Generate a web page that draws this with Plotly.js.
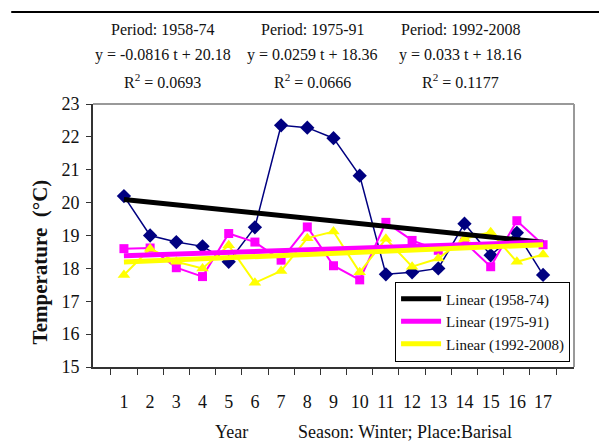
<!DOCTYPE html>
<html>
<head>
<meta charset="utf-8">
<script src="https://cdn.plot.ly/plotly-3.0.1.min.js"></script>
<style>html,body{margin:0;padding:0;background:#fff;}#chart{width:599px;height:448px;}</style>
</head>
<body>
<div id="chart"></div>
<script>
// Year index within each 17-year period
const years = ['1','2','3','4','5','6','7','8','9','10','11','12','13','14','15','16','17'];
// Winter temperatures at Barisal (°C)
const temp1958_74 = [20.2, 19.0, 18.8, 18.67, 18.2, 19.25, 22.35, 22.28, 21.96, 20.82, 17.82, 17.88, 18.0, 19.36, 18.4, 19.08, 17.8];
const temp1975_91 = [18.6, 18.62, 18.02, 17.75, 19.06, 18.8, 18.25, 19.26, 18.08, 17.65, 19.4, 18.85, 18.55, 18.8, 18.05, 19.45, 18.72];
const temp1992_2008 = [17.8, 18.6, 18.2, 18.0, 18.7, 17.56, 17.92, 18.92, 19.12, 17.88, 18.9, 18.05, 18.3, 18.9, 19.1, 18.2, 18.42];
// Linear trend coefficients printed on the chart
const periods = ['1958-74', '1975-91', '1992-2008'];
const slopes = [-0.0816, 0.0259, 0.033];
const intercepts = [20.18, 18.36, 18.16];
const r2 = ['0.0693', '0.0666', '0.1177'];
const yTicks = [15, 16, 17, 18, 19, 20, 21, 22, 23];

const serif = 'Liberation Serif';
const trendColors = ['#000000', '#ff00ff', '#ffff00'];

const data = [
  {x: years, y: temp1958_74, type: 'scatter', mode: 'lines+markers', showlegend: false,
   line: {color: '#000080', width: 1.5}, marker: {symbol: 'diamond', size: 11, color: '#000080'}},
  {x: years, y: temp1975_91, type: 'scatter', mode: 'lines+markers', showlegend: false,
   line: {color: '#ff00ff', width: 2}, marker: {symbol: 'square', size: 9, color: '#ff00ff'}},
  {x: years, y: temp1992_2008, type: 'scatter', mode: 'lines+markers', showlegend: false,
   line: {color: '#ffff00', width: 2}, marker: {symbol: 'triangle-up', size: 11, color: '#ffff00'}}
];
const tFirst = 1, tLast = years.length;
periods.forEach((p, i) => {
  data.push({
    x: [years[0], years[years.length - 1]],
    y: [slopes[i] * tFirst + intercepts[i], slopes[i] * tLast + intercepts[i]],
    type: 'scatter', mode: 'lines', name: 'Linear (' + p + ')',
    line: {color: trendColors[i], width: 5}
  });
});

const annotations = [];
const colX = [0.145, 0.457, 0.765];
periods.forEach((p, i) => {
  const sign = intercepts[i] >= 0 ? '+' : '-';
  const lines = ['Period: ' + p,
    'y = ' + slopes[i] + ' t ' + sign + ' ' + Math.abs(intercepts[i]).toFixed(2),
    'R<sup>2</sup> = ' + r2[i]];
  const ys = [1.285, 1.187, 1.088];
  lines.forEach((t, j) => {
    annotations.push({xref: 'paper', yref: 'paper', x: colX[i], y: ys[j], xanchor: 'center', yanchor: 'middle',
      text: t, showarrow: false, font: {family: serif, size: 16, color: '#111'}});
  });
});
annotations.push({xref: 'paper', yref: 'paper', x: 0.288, y: -0.248, xanchor: 'center', yanchor: 'middle',
  text: 'Year', showarrow: false, font: {family: serif, size: 18, color: '#111'}});
annotations.push({xref: 'paper', yref: 'paper', x: 0.649, y: -0.248, xanchor: 'center', yanchor: 'middle',
  text: 'Season: Winter; Place:Barisal', showarrow: false, font: {family: serif, size: 18, color: '#111'}});
annotations.push({xref: 'paper', yref: 'paper', x: -0.111, y: 0.40, xanchor: 'center', yanchor: 'middle',
  textangle: -90, text: '<b>Temperature  (°C)</b>', showarrow: false, font: {family: serif, size: 21, color: '#111'}});

const layout = {
  width: 599, height: 448,
  margin: {l: 93, r: 25, t: 104, b: 81},
  paper_bgcolor: '#ffffff', plot_bgcolor: '#ffffff',
  font: {family: serif, color: '#111'},
  xaxis: {type: 'category', tickson: 'boundaries', ticks: 'outside', ticklen: 6, tickcolor: '#333',
    showline: true, linecolor: '#333', linewidth: 2, showgrid: false, zeroline: false, tickangle: 0,
    tickfont: {family: serif, size: 18, color: '#111'}, ticklabelstandoff: 17, fixedrange: true},
  yaxis: {range: [15, 23], tickvals: yTicks, ticks: 'outside', ticklen: 5, tickcolor: '#333',
    showline: true, linecolor: '#333', linewidth: 2, showgrid: false, zeroline: false,
    tickfont: {family: serif, size: 18, color: '#111'}, ticklabelstandoff: 3},
  legend: {x: 0.628, y: 0.325, xanchor: 'left', yanchor: 'top', bgcolor: '#ffffff',
    bordercolor: '#000', borderwidth: 1, font: {family: serif, size: 15, color: '#111'},
    tracegroupgap: 0, itemwidth: 40},
  shapes: [
    {type: 'line', xref: 'paper', yref: 'paper', x0: -0.17, x1: 1.06, y0: 1.35, y1: 1.35, line: {color: '#000', width: 2}},
    {type: 'line', xref: 'paper', yref: 'paper', x0: 0, x1: 1, y0: 1, y1: 1, line: {color: '#999', width: 2}},
    {type: 'line', xref: 'paper', yref: 'paper', x0: 1, x1: 1, y0: 0, y1: 1, line: {color: '#999', width: 2}}
  ],
  annotations: annotations,
  showlegend: true
};

Plotly.newPlot('chart', data, layout, {displayModeBar: false, staticPlot: true});
</script>
</body>
</html>
